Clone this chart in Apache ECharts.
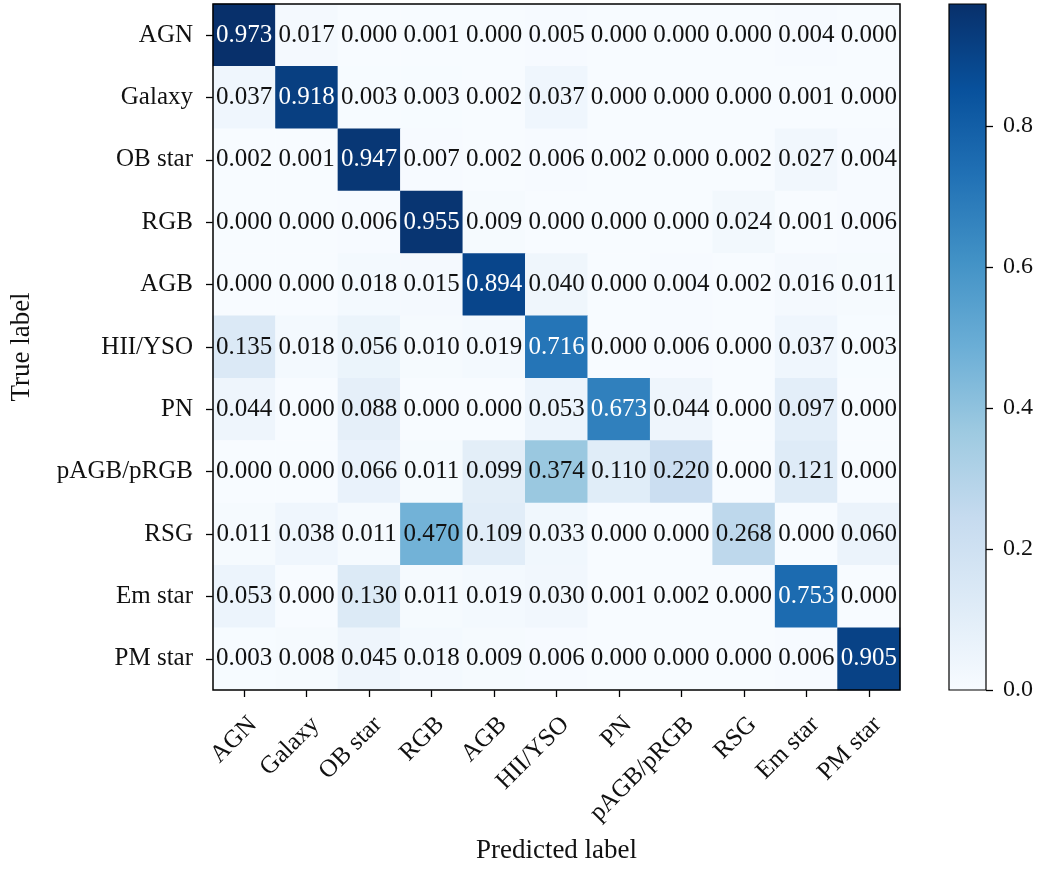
<!DOCTYPE html>
<html>
<head>
<meta charset="utf-8">
<script src="https://cdn.jsdelivr.net/npm/echarts@6/dist/echarts.min.js"></script>
<style>
  html, body { margin: 0; padding: 0; background: #fff; }
  #chart { width: 1039px; height: 870px; }
</style>
</head>
<body>
<div id="chart"></div>
<script>
// Class names (true label rows, predicted label columns)
const classes = ['AGN', 'Galaxy', 'OB star', 'RGB', 'AGB', 'HII/YSO', 'PN', 'pAGB/pRGB', 'RSG', 'Em star', 'PM star'];

// Normalised confusion matrix, one row per true class
const rowAGN      = [0.973, 0.017, 0.000, 0.001, 0.000, 0.005, 0.000, 0.000, 0.000, 0.004, 0.000];
const rowGalaxy   = [0.037, 0.918, 0.003, 0.003, 0.002, 0.037, 0.000, 0.000, 0.000, 0.001, 0.000];
const rowOBstar   = [0.002, 0.001, 0.947, 0.007, 0.002, 0.006, 0.002, 0.000, 0.002, 0.027, 0.004];
const rowRGB      = [0.000, 0.000, 0.006, 0.955, 0.009, 0.000, 0.000, 0.000, 0.024, 0.001, 0.006];
const rowAGB      = [0.000, 0.000, 0.018, 0.015, 0.894, 0.040, 0.000, 0.004, 0.002, 0.016, 0.011];
const rowHIIYSO   = [0.135, 0.018, 0.056, 0.010, 0.019, 0.716, 0.000, 0.006, 0.000, 0.037, 0.003];
const rowPN       = [0.044, 0.000, 0.088, 0.000, 0.000, 0.053, 0.673, 0.044, 0.000, 0.097, 0.000];
const rowPostAGB  = [0.000, 0.000, 0.066, 0.011, 0.099, 0.374, 0.110, 0.220, 0.000, 0.121, 0.000];
const rowRSG      = [0.011, 0.038, 0.011, 0.470, 0.109, 0.033, 0.000, 0.000, 0.268, 0.000, 0.060];
const rowEmStar   = [0.053, 0.000, 0.130, 0.011, 0.019, 0.030, 0.001, 0.002, 0.000, 0.753, 0.000];
const rowPMStar   = [0.003, 0.008, 0.045, 0.018, 0.009, 0.006, 0.000, 0.000, 0.000, 0.006, 0.905];

const matrix = [rowAGN, rowGalaxy, rowOBstar, rowRGB, rowAGB, rowHIIYSO, rowPN, rowPostAGB, rowRSG, rowEmStar, rowPMStar];

// Colour bar tick values
const colorbarTicks = [0.0, 0.2, 0.4, 0.6, 0.8];

// Blues colour map stops
const blues = ['#f7fbff', '#deebf7', '#c6dbef', '#9ecae1', '#6baed6', '#4292c6', '#2171b5', '#08519c', '#08306b'];

const FONT = "'Liberation Serif', 'Times New Roman', serif";
const vmax = Math.max(...matrix.map(r => Math.max(...r)));
const thresh = vmax / 2;

const cells = [];
matrix.forEach((row, i) => {
  row.forEach((v, j) => {
    cells.push({
      value: [j, i, v],
      label: { color: v > thresh ? '#ffffff' : '#111111' }
    });
  });
});

const gradient = new echarts.graphic.LinearGradient(0, 1, 0, 0,
  blues.map((c, k) => ({ offset: k / (blues.length - 1), color: c })));

const chart = echarts.init(document.getElementById('chart'), null, { renderer: 'canvas' });

const plainAxis = {
  axisLine: { show: false }, axisTick: { show: false },
  axisLabel: { show: false }, splitLine: { show: false }
};

chart.setOption({
  backgroundColor: '#ffffff',
  animation: false,
  textStyle: { fontFamily: FONT },
  grid: [
    { left: 212, top: 4, width: 688, height: 686, show: true, z: 5,
      backgroundColor: 'transparent', borderColor: '#000', borderWidth: 1.5 },
    { left: 949, top: 4, width: 37, height: 686, show: true, z: 5,
      backgroundColor: 'transparent', borderColor: '#000', borderWidth: 1.2 }
  ],
  xAxis: [
    {
      type: 'category', gridIndex: 0, data: classes,
      name: 'Predicted label', nameLocation: 'middle', nameGap: 147,
      nameTextStyle: { fontSize: 27, color: '#111', fontFamily: FONT },
      axisLine: { show: false },
      axisTick: { show: true, alignWithLabel: true, length: 7, lineStyle: { color: '#000', width: 1.3 } },
      axisLabel: { rotate: 45, margin: 22, verticalAlign: 'top', fontSize: 25, color: '#111',
        fontFamily: FONT, interval: 0 },
      splitLine: { show: false }, splitArea: { show: false }
    },
    Object.assign({ type: 'category', gridIndex: 1, data: [''] }, plainAxis)
  ],
  yAxis: [
    {
      type: 'category', gridIndex: 0, data: classes, inverse: true,
      name: 'True label', nameLocation: 'middle', nameGap: 178,
      nameTextStyle: { fontSize: 27, color: '#111', fontFamily: FONT },
      axisLine: { show: false },
      axisTick: { show: true, alignWithLabel: true, length: 7, lineStyle: { color: '#000', width: 1.3 } },
      axisLabel: { margin: 20, fontSize: 25, color: '#111', fontFamily: FONT, interval: 0 },
      splitLine: { show: false }, splitArea: { show: false }
    },
    {
      type: 'value', gridIndex: 1, position: 'right', min: 0, max: vmax,
      axisLine: { show: false },
      axisTick: { show: true, length: 7, customValues: colorbarTicks, lineStyle: { color: '#000', width: 1.3 } },
      axisLabel: { margin: 17, fontSize: 24, color: '#111', fontFamily: FONT,
        customValues: colorbarTicks, formatter: v => v.toFixed(1) },
      splitLine: { show: false }
    }
  ],
  visualMap: {
    show: false, type: 'continuous', min: 0, max: vmax, seriesIndex: 0,
    inRange: { color: blues }
  },
  series: [
    {
      type: 'heatmap', xAxisIndex: 0, yAxisIndex: 0, data: cells,
      itemStyle: { borderWidth: 0 },
      label: { show: true, fontSize: 25, fontFamily: FONT, formatter: p => p.value[2].toFixed(3) },
      emphasis: { disabled: true }
    },
    {
      type: 'bar', xAxisIndex: 1, yAxisIndex: 1, data: [vmax], barWidth: '100%',
      itemStyle: { color: gradient }, silent: true
    }
  ]
});
</script>
</body>
</html>
